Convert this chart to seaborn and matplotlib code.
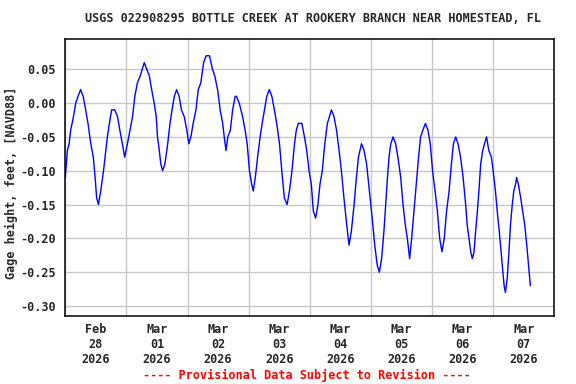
import numpy as np
import pandas as pd
import matplotlib
matplotlib.use("Agg")
import matplotlib.pyplot as plt
import matplotlib.dates as mdates
import seaborn as sns

# Gage height readings, hours after Feb 28 2026 00:00
hours = [0.0, 0.8, 1.5, 2.1, 3.2, 4.1, 5.0, 6.0, 7.0, 8.0, 8.9, 10.0, 11.0, 11.7, 12.3, 13.0,
         13.9, 15.0, 15.9, 16.5, 17.3, 18.2, 19.4, 20.5, 21.4, 22.4, 23.3, 24.4, 25.4, 26.4,
         27.3, 28.3, 29.4, 31.0, 32.0, 33.0, 33.9, 34.9, 35.7, 36.2, 36.9, 37.5, 38.2, 39.1,
         40.2, 41.1, 41.9, 42.8, 43.7, 44.7, 45.6, 46.7, 47.7, 48.5, 49.3, 50.2, 51.3, 52.2,
         53.2, 54.3, 55.3, 56.6, 57.8, 58.7, 59.8, 60.8, 61.8, 62.4, 63.1, 63.8, 64.8, 65.7,
         66.7, 67.2, 68.3, 69.6, 70.6, 71.4, 72.3, 73.2, 73.8, 74.6, 75.5, 76.5, 77.3, 78.2,
         79.1, 80.1, 81.1, 82.1, 83.0, 84.1, 85.0, 86.0, 87.1, 88.0, 89.0, 90.0, 90.7, 91.5,
         92.9, 93.9, 94.8, 95.7, 96.6, 97.4, 98.3, 99.2, 100.0, 100.9, 101.9, 102.9, 103.7,
         104.5, 105.5, 106.5, 107.5, 108.4, 109.4, 110.5, 111.4, 112.3, 113.4, 114.3, 115.1,
         116.3, 117.3, 118.3, 119.4, 120.5, 121.5, 122.5, 123.3, 124.2, 125.1, 125.8, 126.5,
         127.1, 127.8, 128.7, 129.7, 130.6, 131.7, 132.6, 133.5, 134.3, 135.2, 136.0, 136.9,
         137.8, 138.7, 139.5, 140.4, 141.4, 142.4, 143.3, 144.2, 145.2, 146.1, 147.0, 147.9,
         148.8, 149.7, 150.7, 151.6, 152.4, 153.3, 154.2, 155.2, 156.2, 157.2, 157.8, 158.5,
         159.2, 159.8, 160.5, 161.1, 161.8, 162.4, 163.1, 163.9, 164.6, 165.4, 166.3, 167.3,
         168.0, 168.9, 169.6, 170.4, 171.1, 171.8, 172.3, 172.8, 173.5, 174.2, 174.8, 175.5,
         176.1, 176.8, 177.2, 177.9, 178.8, 179.6, 180.4, 181.2, 181.9, 182.6]
gage_ft = [-0.11, -0.07, -0.06, -0.04, -0.02, 0.00, 0.01, 0.02, 0.01, -0.01, -0.03, -0.06, -0.08, -0.11, -0.14, -0.15,
           -0.13, -0.10, -0.07, -0.05, -0.03, -0.01, -0.01, -0.02, -0.04, -0.06, -0.08, -0.06, -0.04, -0.02,
           0.01, 0.03, 0.04, 0.06, 0.05, 0.04, 0.02, 0.00, -0.02, -0.05, -0.07, -0.09, -0.10, -0.09,
           -0.06, -0.03, -0.01, 0.01, 0.02, 0.01, -0.01, -0.02, -0.04, -0.06, -0.05, -0.03, -0.01, 0.02,
           0.03, 0.06, 0.07, 0.07, 0.05, 0.04, 0.02, -0.01, -0.03, -0.05, -0.07, -0.05, -0.04, -0.01,
           0.01, 0.01, 0.00, -0.02, -0.04, -0.06, -0.10, -0.12, -0.13, -0.11, -0.08, -0.05, -0.03, -0.01,
           0.01, 0.02, 0.01, -0.01, -0.03, -0.06, -0.10, -0.14, -0.15, -0.13, -0.10, -0.06, -0.04, -0.03,
           -0.03, -0.05, -0.07, -0.10, -0.12, -0.16, -0.17, -0.15, -0.12, -0.10, -0.06, -0.03, -0.02,
           -0.01, -0.02, -0.04, -0.07, -0.10, -0.14, -0.18, -0.21, -0.19, -0.15, -0.11, -0.08,
           -0.06, -0.07, -0.09, -0.13, -0.17, -0.21, -0.24, -0.25, -0.23, -0.19, -0.15, -0.11,
           -0.08, -0.06, -0.05, -0.06, -0.08, -0.11, -0.15, -0.18, -0.20, -0.23, -0.20, -0.16,
           -0.12, -0.08, -0.05, -0.04, -0.03, -0.04, -0.06, -0.10, -0.13, -0.16, -0.20, -0.22,
           -0.20, -0.16, -0.13, -0.09, -0.06, -0.05, -0.06, -0.08, -0.11, -0.15, -0.18, -0.20,
           -0.22, -0.23, -0.22, -0.19, -0.16, -0.13, -0.09, -0.07, -0.06, -0.05, -0.07, -0.08,
           -0.10, -0.13, -0.16, -0.19, -0.22, -0.25, -0.27, -0.28, -0.26, -0.22, -0.18, -0.15,
           -0.13, -0.12, -0.11, -0.12, -0.14, -0.16, -0.18, -0.21, -0.24, -0.27]

y_ticks = [0.05, 0.00, -0.05, -0.10, -0.15, -0.20, -0.25, -0.30]
start = pd.Timestamp("2026-02-28 00:00")
end = pd.Timestamp("2026-03-08 00:00")

title = "USGS 022908295 BOTTLE CREEK AT ROOKERY BRANCH NEAR HOMESTEAD, FL"
ylab = "Gage height, feet, [NAVD88]"
note = "---- Provisional Data Subject to Revision ----"

df = pd.DataFrame({"time": start + pd.to_timedelta(hours, unit="h"), "gage": gage_ft})

sns.set_style("white")
plt.rcParams["font.family"] = ["DejaVu Sans Mono"]
plt.rcParams["font.weight"] = "bold"
fs = 8.5

fig = plt.figure(figsize=(5.76, 3.84), dpi=100)
ax = fig.add_axes([0.1134, 0.1771, 0.8489, 0.7213])

sns.lineplot(data=df, x="time", y="gage", color="#0000ff", linewidth=1.0, ax=ax)

ax.set_xlim(start, end)
ax.set_ylim(-0.3148, 0.0948)
ax.set_yticks(y_ticks)
ax.set_yticklabels([f"{v:.2f}" for v in y_ticks], fontsize=fs, fontweight="bold")

ax.xaxis.set_major_locator(mdates.DayLocator())
ax.xaxis.set_major_formatter(plt.NullFormatter())
ax.xaxis.set_minor_locator(mdates.HourLocator(byhour=[12]))
ax.xaxis.set_minor_formatter(mdates.DateFormatter("%b\n%d\n%Y"))
for lbl in ax.xaxis.get_minorticklabels():
    lbl.set_fontsize(fs)
    lbl.set_fontweight("bold")
ax.tick_params(axis="x", which="both", length=0, pad=5)
ax.tick_params(axis="y", length=0, pad=7)

ax.grid(True, which="major", color="#c8c8c8", linewidth=1.0)
ax.set_axisbelow(True)
for s in ax.spines.values():
    s.set_color("black")
    s.set_linewidth(1.1)

ax.set_xlabel("")
ax.set_ylabel(ylab, fontsize=fs, fontweight="bold")
ax.yaxis.set_label_coords(-0.096, 0.48)

fig.text(0.543, 0.952, title, ha="center", va="center", fontsize=fs, fontweight="bold")
fig.text(0.533, 0.023, note, ha="center", va="center", fontsize=fs, fontweight="bold", color="red")

fig.savefig("out.png", dpi=100)
